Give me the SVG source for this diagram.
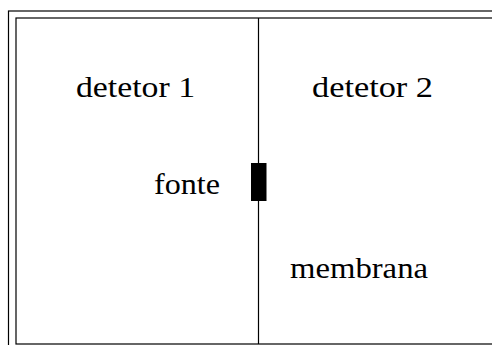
<svg xmlns="http://www.w3.org/2000/svg" width="492" height="345" viewBox="0 0 492 345">
  <style>
    .frame { fill: none; stroke: #000; stroke-width: 1.2; }
    .label { font-family: "Liberation Serif", "DejaVu Serif", serif; font-size: 29px; fill: #000; }
  </style>
  <rect width="492" height="345" fill="#fff"/>
  <!-- outer and inner frame -->
  <g id="frame">
    <rect class="frame" x="8.5" y="11" width="500" height="360"/>
    <rect class="frame" x="16" y="18" width="500" height="326"/>
  </g>
  <g id="connectors">
    <!-- membrane dividing the two chambers -->
    <line id="membrana-line" class="frame" x1="258.5" y1="18" x2="258.5" y2="344"/>
  </g>
  <g id="detetor1">
    <text class="label" x="76" y="97" textLength="119" lengthAdjust="spacingAndGlyphs">detetor 1</text>
  </g>
  <g id="detetor2">
    <text class="label" x="312" y="97" textLength="121" lengthAdjust="spacingAndGlyphs">detetor 2</text>
  </g>
  <g id="fonte">
    <rect x="251" y="163" width="15.5" height="38" fill="#000"/>
    <text class="label" x="154" y="194" textLength="66" lengthAdjust="spacingAndGlyphs">fonte</text>
  </g>
  <g id="membrana">
    <text class="label" x="290" y="278" textLength="138" lengthAdjust="spacingAndGlyphs">membrana</text>
  </g>
</svg>
